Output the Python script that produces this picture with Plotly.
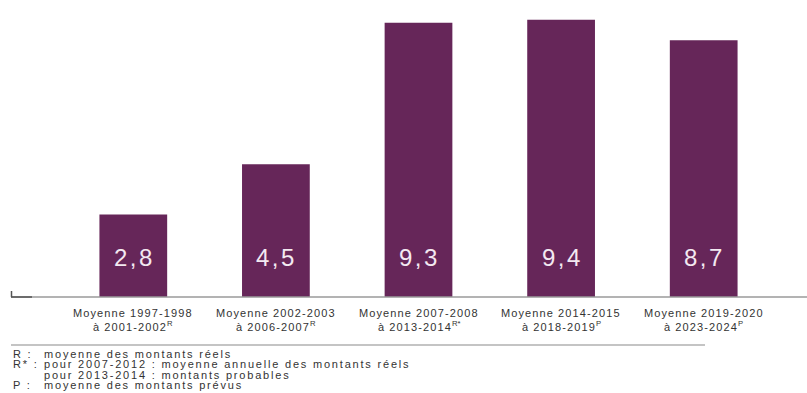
import plotly.graph_objects as go

cat_line1 = ["Moyenne 1997-1998", "Moyenne 2002-2003", "Moyenne 2007-2008",
             "Moyenne 2014-2015", "Moyenne 2019-2020"]
cat_line2 = ["à 2001-2002", "à 2006-2007", "à 2013-2014", "à 2018-2019", "à 2023-2024"]
cat_sup = ["R", "R", "R*", "P", "P"]
values = [2.8, 4.5, 9.3, 9.4, 8.7]
value_labels = ["2,8", "4,5", "9,3", "9,4", "8,7"]
foot_keys = ["R :", "R* :", "", "P :"]
foot_texts = ["moyenne des montants réels",
              "pour 2007-2012 : moyenne annuelle des montants réels",
              "pour 2013-2014 : montants probables",
              "moyenne des montants prévus"]

W, H = 807, 393
ML, MR, MT, MB = 62, 32, 2, 96
pw = W - ML - MR
ph = H - MT - MB
FONT = "Liberation Sans, Arial"

def px(x):
    return (x - ML) / pw

def py(y):
    return (H - MB - y) / ph

def spaced(t, s):
    return '<span style="letter-spacing:%spx">%s</span>' % (s, t)

fig = go.Figure()
fig.add_trace(go.Bar(
    x=list(range(len(values))), y=values,
    marker=dict(color="#662659", line=dict(width=0)),
    width=0.475, hoverinfo="skip"))

for i, lab in enumerate(value_labels):
    fig.add_annotation(x=i, y=1.34, xref="x", yref="y", text=spaced(lab, 2.5), showarrow=False,
                       xshift=1, font=dict(family=FONT, size=24, color="#f3e9f1"))

for i, (l1, l2, s) in enumerate(zip(cat_line1, cat_line2, cat_sup)):
    fig.add_annotation(x=i, y=py(313.5), xref="x", yref="paper", text=spaced(l1, 1.1), showarrow=False,
                       yanchor="middle", font=dict(family=FONT, size=11, color="#333333"))
    t2 = spaced(l2, 1.1) + '<sup>' + s + '</sup>'
    fig.add_annotation(x=i, y=py(326), xref="x", yref="paper", text=t2, showarrow=False,
                       yanchor="middle", font=dict(family=FONT, size=11, color="#333333"))

# baseline and L tick
fig.add_shape(type="line", xref="paper", yref="paper", x0=px(11), x1=px(807), y0=0, y1=0,
              line=dict(color="#9a9a9a", width=1.5))
fig.add_shape(type="line", xref="paper", yref="paper", x0=px(11), x1=px(32), y0=0, y1=0,
              line=dict(color="#555555", width=1.5))
fig.add_shape(type="line", xref="paper", yref="paper", x0=px(11.5), x1=px(11.5), y0=0, y1=py(291),
              line=dict(color="#555555", width=1.5))
# separator
fig.add_shape(type="line", xref="paper", yref="paper", x0=px(11), x1=px(705), y0=py(345), y1=py(345),
              line=dict(color="#8a8a8a", width=1.2))

ys = [353.5, 364, 374.5, 385]
for k, t, y in zip(foot_keys, foot_texts, ys):
    if k:
        fig.add_annotation(x=px(11), y=py(y), xref="paper", yref="paper", text=spaced(k, 1.8),
                           showarrow=False, xanchor="left", yanchor="middle",
                           font=dict(family=FONT, size=11, color="#333333"))
    fig.add_annotation(x=px(42), y=py(y), xref="paper", yref="paper", text=spaced(t, 1.8),
                       showarrow=False, xanchor="left", yanchor="middle",
                       font=dict(family=FONT, size=11, color="#333333"))

fig.update_layout(
    width=W, height=H, margin=dict(l=ML, r=MR, t=MT, b=MB),
    paper_bgcolor="white", plot_bgcolor="white", showlegend=False,
    xaxis=dict(range=[-0.5, 4.5], showticklabels=False,
               showgrid=False, zeroline=False, showline=False, ticks=""),
    yaxis=dict(range=[0, 10], visible=False),
)
fig.write_html("out.html")
